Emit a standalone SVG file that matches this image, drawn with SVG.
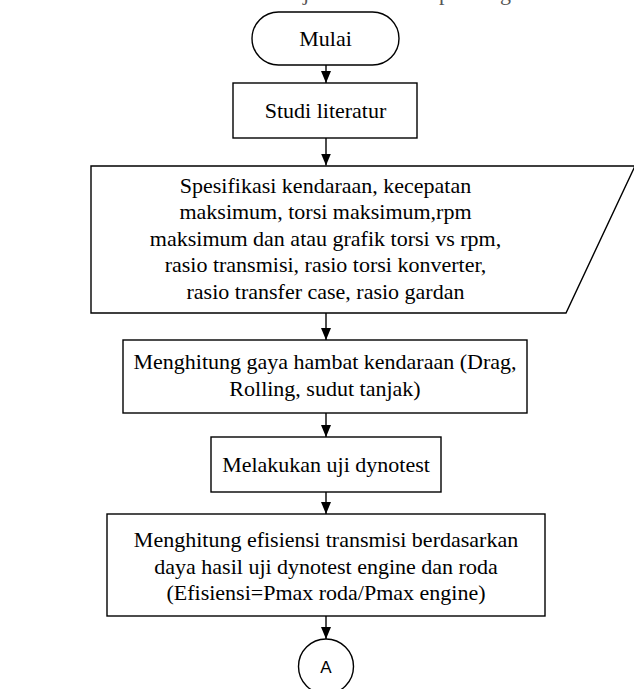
<svg xmlns="http://www.w3.org/2000/svg" width="634" height="689" viewBox="0 0 634 689">
  <style>
    .shape { fill: #ffffff; stroke: #000000; stroke-width: 1.4; }
    .label { font-family: "Liberation Serif", "Times New Roman", serif; font-size: 22px; fill: #000000; text-anchor: middle; }
    .conn { stroke: #000000; stroke-width: 1.4; fill: none; marker-end: url(#arrow); }
    .sans { font-family: "Liberation Sans", Arial, sans-serif; font-size: 17px; fill: #000000; text-anchor: middle; }
    .cut { font-family: "Liberation Serif", "Times New Roman", serif; font-size: 22px; fill: #555555; }
  </style>
  <defs>
    <marker id="arrow" markerUnits="userSpaceOnUse" markerWidth="12" markerHeight="10" refX="12" refY="5" orient="auto" viewBox="0 0 12 10">
      <path d="M0,0 L12,5 L0,10 Z" fill="#000000"/>
    </marker>
  </defs>
  <rect width="634" height="689" fill="#ffffff"/>

  <g id="cut-text">
    <text class="cut" y="0">
      <tspan x="-4" y="0" textLength="300" lengthAdjust="spacing">metode ini dilakukan dalam alur secara </tspan>
      <tspan x="303" y="0" textLength="136" lengthAdjust="spacing">jelas/flowchart se</tspan>
      <tspan x="439" y="0" textLength="58" lengthAdjust="spacing">perti </tspan>
      <tspan x="500" y="0" textLength="140" lengthAdjust="spacing">gambar berikut ini.</tspan>
    </text>
  </g>

  <g id="connectors">
    <line class="conn" x1="326" y1="65" x2="326" y2="83"/>
    <line class="conn" x1="326" y1="138" x2="326" y2="165.5"/>
    <line class="conn" x1="326" y1="313" x2="326" y2="340"/>
    <line class="conn" x1="326" y1="413" x2="326" y2="437"/>
    <line class="conn" x1="326" y1="492" x2="326" y2="514"/>
    <line class="conn" x1="326" y1="616" x2="326" y2="639"/>
  </g>

  <g id="mulai">
    <rect class="shape" x="252" y="12" width="147" height="53" rx="26.5" ry="26.5"/>
    <text class="label" x="325.5" y="46">Mulai</text>
  </g>

  <g id="studi-literatur">
    <rect class="shape" x="233" y="83" width="184" height="55"/>
    <text class="label" x="325.5" y="118">Studi literatur</text>
  </g>

  <g id="spesifikasi">
    <polygon class="shape" points="91,166 635,166 566,313 91,313"/>
    <text class="label" x="325.5" y="192.5">Spesifikasi kendaraan, kecepatan</text>
    <text class="label" x="325.5" y="219">maksimum, torsi maksimum,rpm</text>
    <text class="label" x="325.5" y="245.5">maksimum dan atau grafik torsi vs rpm,</text>
    <text class="label" x="325.5" y="272">rasio transmisi, rasio torsi konverter,</text>
    <text class="label" x="325.5" y="298.5">rasio transfer case, rasio gardan</text>
  </g>

  <g id="gaya-hambat">
    <rect class="shape" x="123" y="340" width="404" height="73"/>
    <text class="label" x="325" y="369">Menghitung gaya hambat kendaraan (Drag,</text>
    <text class="label" x="325" y="396">Rolling, sudut tanjak)</text>
  </g>

  <g id="dynotest">
    <rect class="shape" x="211" y="437" width="230" height="55"/>
    <text class="label" x="326" y="472">Melakukan uji dynotest</text>
  </g>

  <g id="efisiensi">
    <rect class="shape" x="107" y="514" width="438" height="102"/>
    <text class="label" x="326" y="547">Menghitung efisiensi transmisi berdasarkan</text>
    <text class="label" x="326" y="573.5">daya hasil uji dynotest engine dan roda</text>
    <text class="label" x="326" y="600">(Efisiensi=Pmax roda/Pmax engine)</text>
  </g>

  <g id="konektor-a">
    <circle class="shape" cx="326" cy="666.5" r="27.5"/>
    <text class="sans" x="326" y="673">A</text>
  </g>
</svg>
